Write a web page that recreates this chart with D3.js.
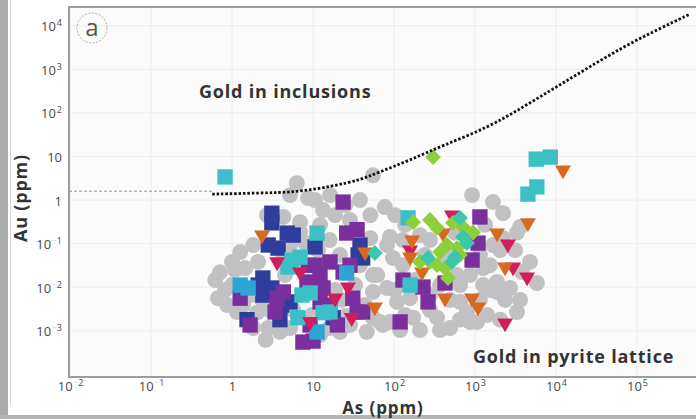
<!DOCTYPE html>
<html>
<head>
<meta charset="utf-8">
<script src="https://cdn.jsdelivr.net/npm/d3@7"></script>
<style>
  html, body { margin: 0; padding: 0; background: #fff; }
  svg { display: block; font-family: "Open Sans", sans-serif; }
</style>
</head>
<body>
<svg id="chart" width="696" height="419"></svg>
<script>
// decade exponents used for the tick labels
const xTickExps = [-2, -1, 0, 1, 2, 3, 4, 5];
const yTickExps = [-3, -2, -1, 0, 1, 2, 3, 4];

// solubility limit (dotted line), As and Au in ppm
const limitAs = [0.57, 2.2, 6.3, 17.7, 38, 62, 158, 403, 1480, 3900, 10000, 25500, 67000, 172000, 451000];
const limitAu = [1.37, 1.45, 1.52, 2.1, 2.9, 4.2, 8.3, 18, 47, 136, 390, 1120, 3230, 7900, 18500];

// [As ppm, Au ppm]
const grayPts = [
  [6.3, 2.45], [5.2, 1.3], [8.7, 1.11], [13.3, 0.59], [18.7, 0.45], [25, 0.77], [38, 1.0], [51, 0.45], [55, 3.7],
  [2.7, 0.45], [4.3, 0.41], [6.9, 0.31], [1.82, 0.093], [1.26, 0.064], [1.0, 0.038], [0.71, 0.022], [0.62, 0.0146],
  [0.67, 0.0056], [0.87, 0.0039], [1.15, 0.0027], [2.04, 0.0026], [1.82, 0.00116], [2.8, 0.00116], [3.9, 0.00094],
  [5.2, 0.00116], [16, 0.00116], [21.5, 0.00094], [28.6, 0.00136], [46, 0.00094], [55, 0.002], [55, 0.0078], [55, 0.019],
  [1.0, 0.0112], [1.45, 0.0275], [2.1, 0.038], [1.67, 0.0066], [2.35, 0.0051], [5.2, 0.093], [8.0, 0.103], [16, 0.121],
  [21.5, 0.055], [14, 0.038], [38, 0.032], [33, 0.0112], [77, 0.69], [89, 0.142], [129, 0.121], [209, 0.157], [82, 0.093],
  [51, 0.134], [97, 0.047], [129, 0.032], [62, 0.019], [82, 0.0096], [109, 0.0046], [73, 0.00136], [172, 0.002],
  [340, 0.002], [653, 0.0046], [797, 0.0027], [868, 0.0016], [1060, 0.0016], [1410, 0.0023], [600, 0.019], [653, 0.0112],
  [1260, 0.0112], [1260, 0.0275], [1150, 0.055], [1530, 0.032], [1870, 0.0132], [1870, 0.0078], [2700, 0.0096],
  [3300, 0.0027], [3800, 0.0223], [5800, 0.0125], [1670, 0.093], [2220, 0.134], [3300, 0.18], [3600, 0.24], [2220, 0.5],
  [1670, 0.9], [920, 1.3], [182, 0.0146], [278, 0.0066], [158, 0.0056], [370, 0.0112], [491, 0.0051], [241, 0.055],
  [137, 0.27], [566, 0.18], [103, 0.45], [491, 0.00116], [2040, 0.0018], [9.7, 0.0023], [5.7, 0.003], [22.8, 0.0051],
  [44, 0.0039], [4.5, 0.019], [11.5, 0.071], [119, 0.00104],
  [6.9, 0.185], [4.1, 0.038], [18.7, 0.0086], [25, 0.0022], [12.2, 0.0008], [2.6, 0.00062], [67, 0.0016],
  [278, 0.121], [426, 0.055], [1330, 0.27], [2040, 0.071], [3120, 0.071], [4780, 0.038], [868, 0.019], [1530, 0.0086],
  [2350, 0.0051], [3600, 0.0051], [1150, 0.0051], [653, 0.0018], [370, 0.00104], [209, 0.00104], [278, 0.003],
  [103, 0.0086], [137, 0.0023], [89, 0.0016], [1.09, 0.025], [0.82, 0.0086], [1.37, 0.0039], [2.9, 0.003],
  [10.6, 1.0], [16.2, 1.3], [28.6, 0.35], [12.2, 0.27]
];
const bluePts = [
  [3.1, 0.5], [3.1, 0.30], [4.8, 0.175], [5.7, 0.157], [2.8, 0.093], [3.7, 0.079], [2.4, 0.0163], [3.1, 0.0096],
  [2.4, 0.0066], [4.1, 0.0039], [3.9, 0.0018], [1.53, 0.0018], [10.6, 0.084], [38, 0.093], [36, 0.055], [41, 0.047],
  [17.7, 0.002], [2.1, 0.0112], [5.2, 0.0046]
];
const purplePts = [
  [23.5, 0.9], [26, 0.175], [35, 0.21], [8.7, 0.032], [10.6, 0.032], [12.2, 0.019], [8.4, 0.0132], [10, 0.0112],
  [4.3, 0.0078], [3.6, 0.0056], [13.3, 0.0096], [12.2, 0.0046], [16.2, 0.0039], [23.5, 0.0223], [28.6, 0.032],
  [31, 0.0056], [35, 0.0027], [41, 0.0027], [20, 0.00136], [7.5, 0.00055], [10, 0.00058], [3.4, 0.0027], [1.26, 0.0056],
  [1.67, 0.00136], [9.2, 0.00136], [16.2, 0.038], [1150, 0.41], [1090, 0.103], [920, 0.042], [129, 0.0146],
  [228, 0.0101], [426, 0.0125], [263, 0.0046], [119, 0.0016]
];
const cyanPts = [
  [0.82, 3.4], [5700, 8.7], [8500, 9.7], [4500, 1.37], [5800, 2.0], [11.2, 0.175], [5.5, 0.042], [4.9, 0.029],
  [6.9, 0.049], [7.3, 0.0066], [9.2, 0.0074], [6.5, 0.002], [13.3, 0.0026], [16.2, 0.0027], [149, 0.39], [158, 0.0112]
];
const skyPts = [[1.26, 0.0112], [1.58, 0.0096], [11.2, 0.00094], [26, 0.0212]];
const crimsonPts = [
  [3.6, 0.038], [6.9, 0.0223], [18.7, 0.0056], [27, 0.0101], [30, 0.002], [9.2, 0.0016], [520, 0.45], [2550, 0.098],
  [2950, 0.029], [4400, 0.0171], [2350, 0.0015], [158, 0.071]
];
const orangePts = [
  [2.35, 0.157], [44, 0.064], [58, 0.0035], [167, 0.121], [158, 0.049], [403, 0.175], [222, 0.0223], [426, 0.0056],
  [918, 0.0056], [1090, 0.0035], [1870, 0.175], [4500, 0.30], [2350, 0.029], [12200, 4.9]
];
const limePts = [
  [303, 9.7], [172, 0.31], [278, 0.35], [340, 0.23], [535, 0.30], [711, 0.24], [945, 0.18], [451, 0.093], [370, 0.064],
  [600, 0.079], [209, 0.038], [278, 0.038], [340, 0.032], [426, 0.0275], [464, 0.0163], [653, 0.055]
];
const tealPts = [[653, 0.39], [711, 0.142], [797, 0.103], [566, 0.049], [520, 0.038], [58, 0.061], [263, 0.047]];

const series = [
  { pts: grayPts, shape: "circle", color: "#c1c1c3" },
  { pts: bluePts, shape: "square", color: "#2f3d9c" },
  { pts: purplePts, shape: "square", color: "#7a2f9e" },
  { pts: cyanPts, shape: "square", color: "#3cc0c6" },
  { pts: skyPts, shape: "square", color: "#2ca4d6" },
  { pts: crimsonPts, shape: "tri", color: "#d01d5c" },
  { pts: orangePts, shape: "tri", color: "#d8691f" },
  { pts: limePts, shape: "diamond", color: "#8dcf3b" },
  { pts: tealPts, shape: "diamond", color: "#3bc7ab" }
];

const svg = d3.select("#chart");
const plot = { left: 69, top: 7, right: 700, bottom: 377 };

const x = d3.scaleLog().domain([0.0097, 6e5]).range([plot.left, plot.right]);
const y = d3.scaleLog().domain([8.7e-5, 2.7e4]).range([plot.bottom, plot.top]);

// page border bits
svg.append("rect").attr("x", 0).attr("y", 0).attr("width", 8).attr("height", 419).attr("fill", "#ababab");
svg.append("line").attr("x1", 10.5).attr("x2", 10.5).attr("y1", 0).attr("y2", 405).attr("stroke", "#d2d2d2");
svg.append("rect").attr("x", 0).attr("y", 415).attr("width", 696).attr("height", 4).attr("fill", "#b3b3b3");

// plot background + faint decade grid
svg.append("rect")
  .attr("x", plot.left).attr("y", plot.top)
  .attr("width", plot.right - plot.left).attr("height", plot.bottom - plot.top)
  .attr("fill", "#fbfbfb");

const grid = svg.append("g").attr("class", "grid");
grid.selectAll("line.gx").data(xTickExps).join("line").attr("class", "gx")
  .attr("x1", (e) => x(10 ** e)).attr("x2", (e) => x(10 ** e))
  .attr("y1", plot.top).attr("y2", plot.bottom)
  .attr("stroke", "#ededed");
grid.selectAll("line.gy").data(yTickExps).join("line").attr("class", "gy")
  .attr("x1", plot.left).attr("x2", plot.right)
  .attr("y1", (e) => y(10 ** e)).attr("y2", (e) => y(10 ** e))
  .attr("stroke", "#ededed");

// thin dashed reference at the start of the limit curve
svg.append("line")
  .attr("x1", plot.left).attr("x2", x(limitAs[0]))
  .attr("y1", y(1.6)).attr("y2", y(1.6))
  .attr("stroke", "#777").attr("stroke-width", 0.8).attr("stroke-dasharray", "3 2");

// markers
const symCircle = d3.symbol().type(d3.symbolCircle).size(200);
const symSquare = d3.symbol().type(d3.symbolSquare).size(235);
const symTri = d3.symbol().type(d3.symbolTriangle).size(110);
const symDiamond = d3.symbol().type(d3.symbolSquare).size(125);

const marks = svg.append("g").attr("class", "marks");
series.forEach((s) => {
  const path = s.shape === "circle" ? symCircle : s.shape === "square" ? symSquare : s.shape === "tri" ? symTri : symDiamond;
  const rot = s.shape === "tri" ? 180 : s.shape === "diamond" ? 45 : 0;
  marks.append("g")
    .selectAll("path")
    .data(s.pts)
    .join("path")
    .attr("d", path())
    .attr("transform", (d) => `translate(${x(d[0])},${y(d[1])}) rotate(${rot})`)
    .attr("fill", s.color);
});

// solubility limit curve
const limitData = limitAs.map((a, i) => [a, limitAu[i]]);
svg.append("path")
  .datum(limitData)
  .attr("d", d3.line().x((d) => x(d[0])).y((d) => y(d[1])).curve(d3.curveBasis))
  .attr("fill", "none")
  .attr("stroke", "#111")
  .attr("stroke-width", 2.8)
  .attr("stroke-dasharray", "2.5 1.9");

// frame
svg.append("rect")
  .attr("x", plot.left).attr("y", plot.top)
  .attr("width", plot.right - plot.left).attr("height", plot.bottom - plot.top)
  .attr("fill", "none").attr("stroke", "#9c9c9c").attr("stroke-width", 2);

// tick labels
function writeExp(text, e) {
  text.text(null);
  if (e === 0) { text.text("1"); return; }
  if (e === 1) { text.text("10"); return; }
  text.append("tspan").text("10");
  const sup = text.append("tspan").attr("dy", -5).attr("dx", e < 0 ? 0.5 : 1).style("font-size", "9px");
  if (e < 0) sup.append("tspan").attr("fill", "#d6d6d6").text("\u2212");
  sup.append("tspan").text(Math.abs(e));
}

const gx = svg.append("g").attr("transform", `translate(0,${plot.bottom})`)
  .call(d3.axisBottom(x).tickValues(xTickExps.map((e) => 10 ** e)).tickSize(0).tickPadding(0).tickFormat(""));
gx.select(".domain").remove();
gx.selectAll(".tick text")
  .attr("y", 14).attr("dy", 0)
  .attr("fill", "#484848").style("font-size", "13px").style("font-family", "Open Sans")
  .each(function (d) { writeExp(d3.select(this), Math.round(Math.log10(d))); });

const gy = svg.append("g").attr("transform", `translate(${plot.left},0)`)
  .call(d3.axisLeft(y).tickValues(yTickExps.map((e) => 10 ** e)).tickSize(0).tickPadding(0).tickFormat(""));
gy.select(".domain").remove();
gy.selectAll(".tick text")
  .attr("x", -7).attr("dy", 5)
  .attr("text-anchor", "end")
  .attr("fill", "#484848").style("font-size", "13px").style("font-family", "Open Sans")
  .each(function (d) { writeExp(d3.select(this), Math.round(Math.log10(d))); });

// axis titles
svg.append("text")
  .attr("transform", `translate(27,${(plot.top + plot.bottom) / 2 + 6}) rotate(-90)`)
  .attr("text-anchor", "middle")
  .attr("font-weight", 700).attr("font-size", 18).attr("letter-spacing", 0.8)
  .attr("fill", "#333")
  .text("Au (ppm)");

svg.append("text")
  .attr("x", 383).attr("y", 414)
  .attr("text-anchor", "middle")
  .attr("font-weight", 700).attr("font-size", 17).attr("letter-spacing", 0.9)
  .attr("fill", "#333")
  .text("As (ppm)");

// region annotations
svg.append("text")
  .attr("x", 199).attr("y", 98)
  .attr("font-weight", 700).attr("font-size", 18).attr("letter-spacing", 0.8)
  .attr("fill", "#333")
  .text("Gold in inclusions");

svg.append("text")
  .attr("x", 473).attr("y", 363)
  .attr("font-weight", 700).attr("font-size", 18).attr("letter-spacing", 0.8)
  .attr("fill", "#333")
  .text("Gold in pyrite lattice");

// panel letter
svg.append("circle").attr("cx", 92).attr("cy", 28).attr("r", 15)
  .attr("fill", "none").attr("stroke", "#999").attr("stroke-width", 0.8).attr("stroke-dasharray", "2 1.5");
svg.append("text").attr("x", 92).attr("y", 36).attr("text-anchor", "middle")
  .attr("font-size", 24).attr("fill", "#555").text("a");
</script>
</body>
</html>
